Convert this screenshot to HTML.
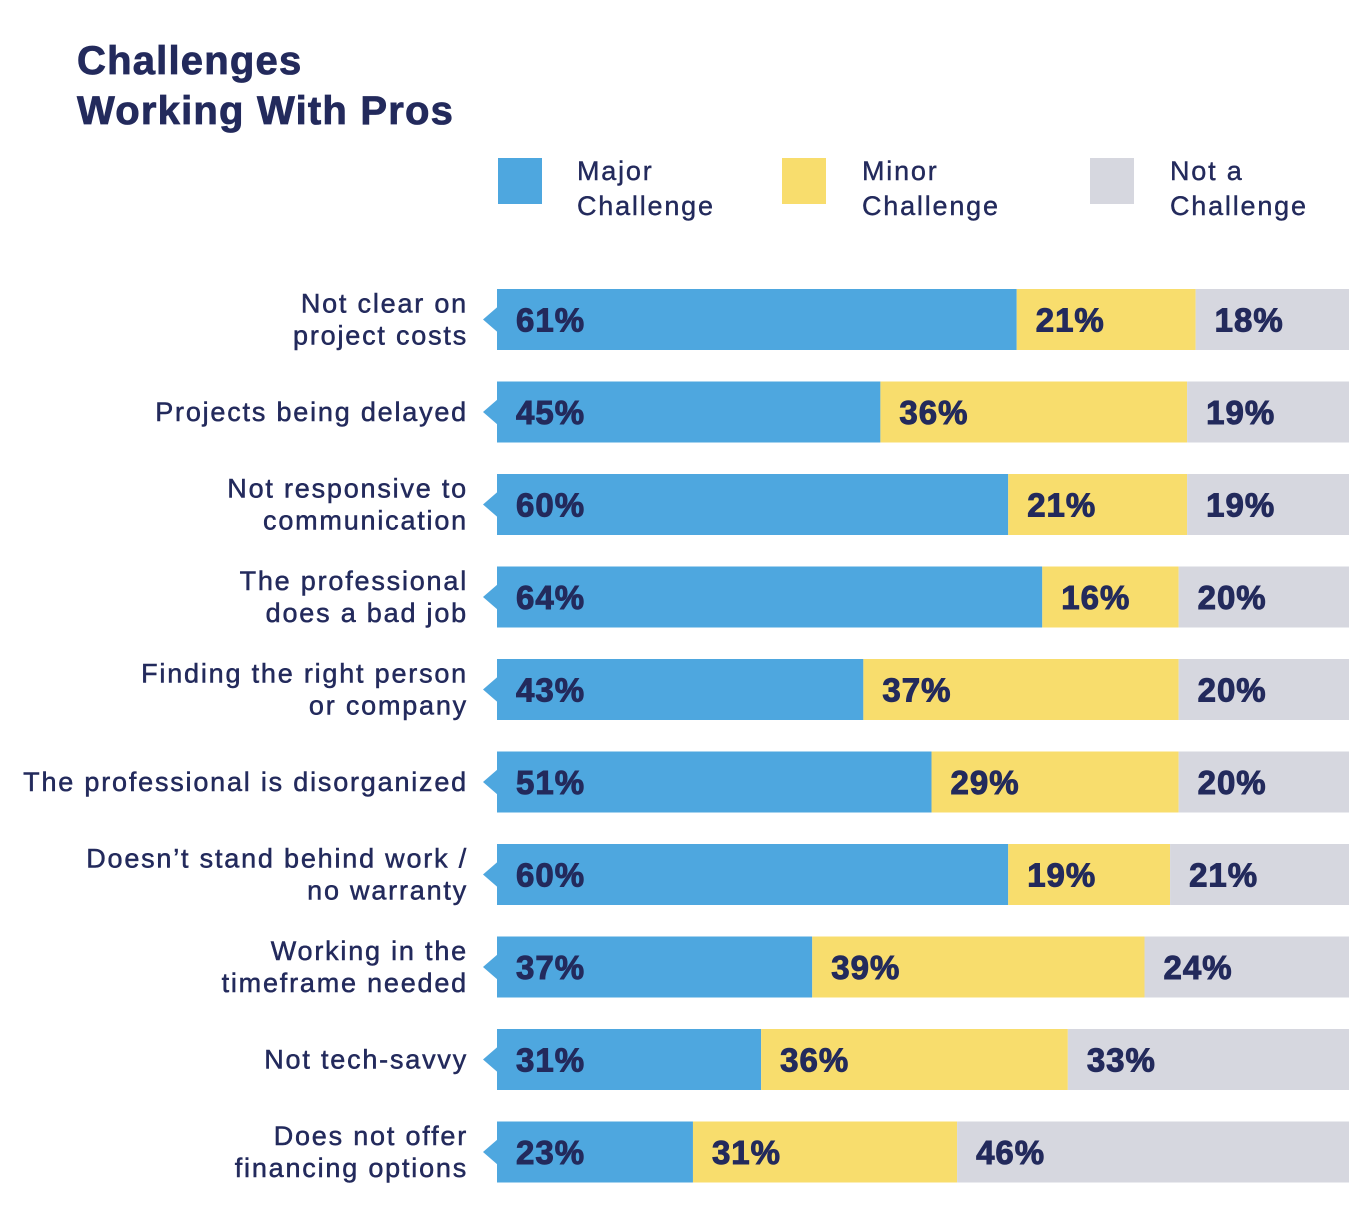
<!DOCTYPE html>
<html><head><meta charset="utf-8"><style>
body{margin:0;background:#fff;width:1368px;height:1220px;overflow:hidden;font-family:"Liberation Sans",sans-serif;color:#232a5c}
.t{position:absolute;left:77px;top:36px;font-size:40px;font-weight:bold;line-height:50px;letter-spacing:1.2px;-webkit-text-stroke:0.8px #232a5c}
.lg{position:absolute;font-size:27px;line-height:35px;letter-spacing:1.8px;-webkit-text-stroke:0.4px #232a5c}
.sw{position:absolute;width:44px;height:46px}
</style></head><body>
<div class="t">Challenges<br>Working With Pros</div>
<div class="sw" style="left:498px;top:158px;background:#4ea7df"></div>
<div class="lg" style="left:577px;top:154px">Major<br>Challenge</div>
<div class="sw" style="left:782px;top:158px;background:#f8dd6d"></div>
<div class="lg" style="left:862px;top:154px">Minor<br>Challenge</div>
<div class="sw" style="left:1090px;top:158px;background:#d6d7df"></div>
<div class="lg" style="left:1170px;top:154px">Not a<br>Challenge</div>
<svg id="c" width="1368" height="1220" style="position:absolute;left:0;top:0"></svg>
<script>
const categories=[["Not clear on","project costs"],["Projects being delayed"],["Not responsive to","communication"],["The professional","does a bad job"],["Finding the right person","or company"],["The professional is disorganized"],["Doesn\u2019t stand behind work /","no warranty"],["Working in the","timeframe needed"],["Not tech-savvy"],["Does not offer","financing options"]];
const major=[61,45,60,64,43,51,60,37,31,23];
const minor=[21,36,21,16,37,29,19,39,36,31];
const notA=[18,19,19,20,20,20,21,24,33,46];
const x0=497,x1=1349,y0=289,step=92.5,bh=61;
const xs=v=>x0+(x1-x0)*v/100;
const ys=i=>y0+i*step;
const svg=document.getElementById('c');
const NS='http://www.w3.org/2000/svg';
function mk(t,a){const e=document.createElementNS(NS,t);for(const k in a)e.setAttribute(k,a[k]);svg.appendChild(e);return e;}
const series=[[major,'#4ea7df','major'],[minor,'#f8dd6d','minor'],[notA,'#d6d7df','not']];
categories.forEach((cat,i)=>{
  const y=ys(i),cy=y+bh/2;
  const tri=mk('polygon',{points:`${x0+1},${cy-13} ${x0+1},${cy+13} ${x0-14},${cy}`,fill:'#4ea7df'});
  
  
  let acc=0;
  series.forEach(([arr,col,nm])=>{
    const v=arr[i];
    const r=mk('rect',{x:xs(acc),y:y,width:xs(acc+v)-xs(acc),height:bh,fill:col});
    
    
    const t=mk('text',{x:xs(acc)+19,y:cy+12,'font-size':33,'font-weight':'bold',fill:'#232a5c',stroke:'#232a5c','stroke-width':1,'letter-spacing':1,'font-family':'Liberation Sans, sans-serif'});
    t.textContent=v+'%';
    
    
    acc+=v;
  });
  const lines=cat.length;
  cat.forEach((ln,j)=>{
    const t=mk('text',{x:468,y:cy+9+(j-(lines-1)/2)*32,'text-anchor':'end','font-size':27,fill:'#232a5c',stroke:'#232a5c','stroke-width':0.5,'letter-spacing':1.8,'font-family':'Liberation Sans, sans-serif'});
    t.textContent=ln;
    
    
  });
});
</script>
</body></html>
